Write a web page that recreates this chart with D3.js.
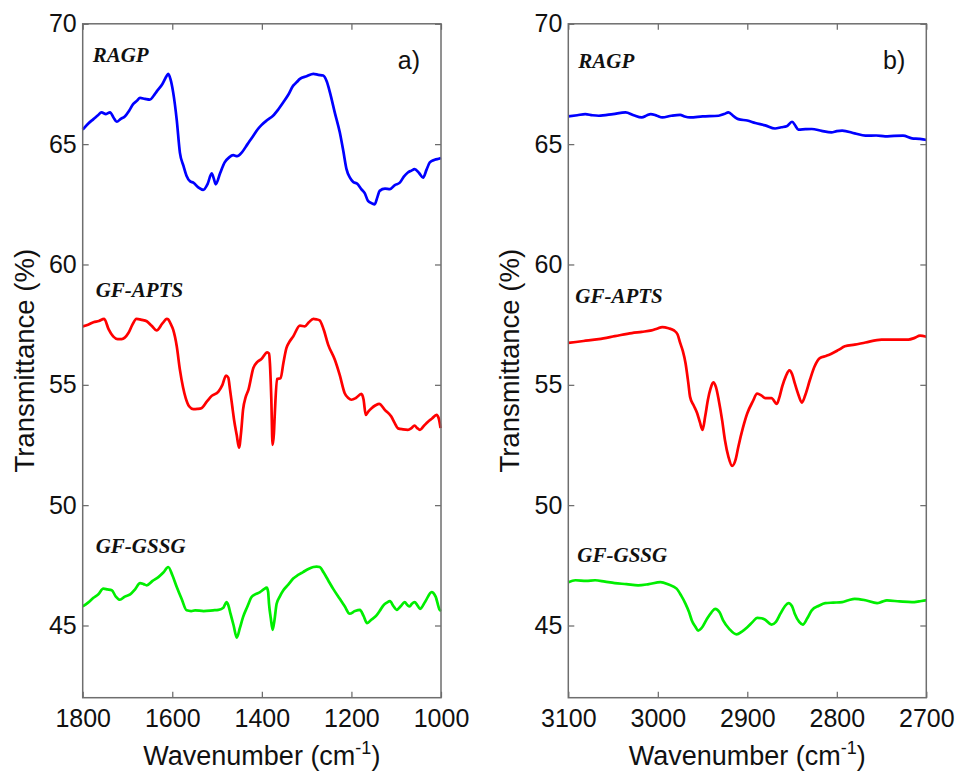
<!DOCTYPE html>
<html>
<head>
<meta charset="utf-8">
<script src="https://cdn.jsdelivr.net/npm/d3@7"></script>
<style>
body { margin: 0; background: #fff; }
svg { display: block; }
</style>
</head>
<body>
<div id="chart"></div>
<script>
// panel a: 1800-1000 cm-1
var wnA_ragp = [1800,1788,1776,1766,1758,1748,1739,1731,1724,1715,1706,1696,1687,1679,1672,1661,1650,1642,1635,1622,1612,1609,1604,1598,1590,1583,1575,1568,1560,1553,1542,1531,1521,1512,1507,1503,1493,1483,1473,1464,1455,1445,1432,1419,1410,1401,1388,1375,1363,1352,1341,1330,1322,1315,1300,1285,1274,1263,1255,1248,1237,1226,1218,1211,1203,1196,1187,1178,1170,1163,1155,1148,1142,1137,1125,1114,1103,1092,1083,1074,1066,1059,1049,1040,1032,1025,1014,1003,1000];
var tA_ragp = [65.6,65.85,66.04,66.2,66.32,66.25,66.32,66.1,65.93,66.05,66.15,66.4,66.67,66.8,66.92,66.88,66.85,67.0,67.18,67.5,67.85,67.92,67.7,67.15,66.0,64.65,64.1,63.68,63.45,63.4,63.2,63.1,63.35,63.79,63.55,63.33,63.8,64.24,64.45,64.54,64.5,64.65,65.0,65.35,65.6,65.79,66.0,66.18,66.45,66.74,67.05,67.43,67.58,67.71,67.82,67.92,67.88,67.85,67.6,67.15,66.3,65.49,64.7,63.96,63.6,63.43,63.35,63.13,62.95,62.64,62.55,62.5,62.8,63.06,63.15,63.13,63.3,63.4,63.65,63.82,63.9,63.96,63.8,63.61,63.95,64.24,64.35,64.4,64.42];

var wnA_apts = [1800,1788,1776,1764,1752,1742,1732,1722,1713,1698,1689,1680,1668,1657,1646,1635,1622,1612,1609,1604,1598,1590,1583,1576,1570,1562,1553,1544,1535,1523,1512,1497,1488,1480,1475,1471,1466,1462,1456,1451,1446,1442,1436,1430,1419,1410,1401,1388,1384,1382,1379,1376,1373,1371,1366,1358,1352,1345,1338,1330,1315,1304,1295,1285,1278,1271,1262,1252,1237,1226,1215,1207,1200,1190,1178,1173,1168,1162,1155,1146,1138,1125,1111,1103,1096,1085,1074,1066,1059,1053,1047,1038,1029,1020,1010,1005,1001];
var tA_apts = [57.43,57.5,57.6,57.65,57.74,57.3,57.01,56.9,56.9,57.15,57.5,57.74,57.7,57.64,57.45,57.26,57.55,57.74,57.72,57.55,57.29,56.6,55.63,54.9,54.45,54.1,53.99,54.0,54.03,54.3,54.54,54.72,55.0,55.38,55.3,54.79,54.1,53.54,52.9,52.39,53.1,53.96,54.5,54.79,55.7,55.95,56.07,56.35,56.3,55.9,54.5,52.5,53.0,53.82,55.24,55.28,55.9,56.53,56.8,57.01,57.46,57.43,57.6,57.74,57.72,57.68,57.3,56.67,56.04,55.4,54.65,54.45,54.38,54.45,54.62,54.4,53.75,53.9,54.03,54.15,54.21,53.95,53.68,53.4,53.19,53.15,53.13,53.2,53.31,53.2,53.13,53.3,53.47,53.6,53.75,53.6,53.2];

var wnA_gssg = [1800,1788,1776,1765,1754,1745,1735,1726,1717,1706,1694,1683,1672,1664,1657,1644,1631,1620,1609,1600,1590,1579,1568,1558,1549,1530,1509,1497,1486,1479,1475,1470,1463,1456,1449,1442,1432,1423,1414,1404,1396,1389,1386,1384,1380,1376,1372,1367,1360,1352,1341,1330,1319,1308,1296,1285,1278,1271,1262,1252,1240,1226,1215,1204,1192,1181,1173,1165,1155,1144,1137,1129,1121,1114,1106,1099,1090,1081,1075,1070,1065,1059,1053,1047,1035,1021,1012,1003,1000];
var tA_gssg = [45.79,45.95,46.15,46.3,46.53,46.5,46.46,46.2,46.07,46.2,46.29,46.5,46.76,46.72,46.67,46.85,47.01,47.2,47.43,47.1,46.6,46.1,45.63,45.6,45.63,45.6,45.63,45.65,45.74,45.97,45.85,45.49,45.0,44.49,44.9,45.35,45.8,46.18,46.3,46.39,46.5,46.57,46.4,45.9,45.3,44.82,45.2,45.9,46.2,46.46,46.7,46.95,47.1,47.22,47.35,47.43,47.45,47.43,47.2,46.88,46.5,46.11,45.8,45.49,45.6,45.65,45.4,45.1,45.25,45.42,45.6,45.83,45.95,46.01,45.8,45.65,45.8,45.97,45.85,45.79,45.9,45.97,45.85,45.69,46.0,46.39,46.2,45.65,45.6];

// panel b: 3100-2700 cm-1
var wnB_ragp = [3100,3090,3081,3073,3066,3050,3036,3027,3018,3012,3008,3001,2995,2985,2975,2970,2964,2950,2932,2926,2921,2915,2910,2900,2891,2880,2869,2862,2856,2850,2846,2843,2835,2828,2817,2806,2800,2794,2780,2768,2756,2746,2736,2726,2716,2708,2701,2700];
var tB_ragp = [66.15,66.2,66.25,66.2,66.18,66.25,66.32,66.2,66.11,66.2,66.25,66.18,66.11,66.18,66.22,66.15,66.11,66.15,66.18,66.25,66.32,66.15,66.04,65.98,65.88,65.78,65.65,65.7,65.74,65.93,65.75,65.6,65.62,65.63,65.55,65.49,65.54,65.56,65.45,65.35,65.36,65.32,65.34,65.35,65.24,65.22,65.18,65.17];

var wnB_apts = [3100,3083,3066,3048,3029,3018,3007,3001,2995,2988,2982,2978,2975,2972,2969,2966,2964,2960,2956,2953,2950,2947,2944,2941,2938,2935,2932,2928,2925,2921,2917,2913,2910,2905,2900,2894,2889,2884,2880,2873,2867,2864,2861,2857,2853,2850,2847,2843,2839,2835,2830,2825,2819,2812,2806,2798,2791,2780,2768,2750,2735,2720,2713,2707,2701,2700];
var tB_apts = [56.74,56.82,56.9,57.02,57.15,57.2,57.26,57.33,57.4,57.35,57.26,57.1,56.74,56.4,55.9,55.1,54.51,54.15,53.82,53.45,53.13,53.7,54.38,54.85,55.1,54.9,54.38,53.5,52.71,52.0,51.63,51.9,52.43,53.2,53.82,54.3,54.63,54.55,54.45,54.45,54.21,54.5,54.93,55.35,55.6,55.45,55.07,54.6,54.26,54.6,55.21,55.75,56.11,56.2,56.29,56.45,56.6,56.67,56.76,56.88,56.88,56.88,56.95,57.04,57.01,57.0];

var wnB_gssg = [3100,3092,3080,3070,3059,3048,3035,3022,3010,2997,2988,2979,2974,2969,2965,2962,2958,2955,2950,2945,2940,2936,2931,2927,2920,2912,2906,2900,2894,2889,2884,2880,2873,2868,2863,2858,2854,2850,2847,2842,2838,2833,2828,2820,2813,2804,2794,2787,2780,2768,2755,2750,2744,2730,2716,2708,2701,2700];
var tB_gssg = [46.8,46.88,46.85,46.88,46.82,46.76,46.72,46.67,46.72,46.8,46.7,46.53,46.25,45.9,45.55,45.21,44.95,44.79,44.95,45.28,45.55,45.69,45.55,45.21,44.85,44.63,44.75,44.93,45.15,45.32,45.3,45.24,45.04,45.15,45.49,45.8,45.93,45.8,45.49,45.15,45.04,45.3,45.63,45.82,45.93,45.95,45.97,46.05,46.11,46.05,45.93,45.98,46.04,46.0,45.97,46.0,46.04,46.04];

var panels = [
  { x0: 82.7, x1: 441, domain: [1800, 1000], ticks: [1800,1600,1400,1200,1000], tag: "a)",
    series: [[wnA_ragp, tA_ragp], [wnA_apts, tA_apts], [wnA_gssg, tA_gssg]],
    labelPos: [[10, 38], [13, 273], [13, 529]] },
  { x0: 568.3, x1: 926.3, domain: [3100, 2700], ticks: [3100,3000,2900,2800,2700], tag: "b)",
    series: [[wnB_ragp, tB_ragp], [wnB_apts, tB_apts], [wnB_gssg, tB_gssg]],
    labelPos: [[10, 44], [7, 279], [9, 538]] }
];
var names = ["RAGP", "GF-APTS", "GF-GSSG"];
var colors = ["#0000ff", "#ff0000", "#00ee00"];
var yTicks = [45, 50, 55, 60, 65, 70];

var width = 959, height = 771;
var plotTop = 23.8, plotBottom = 697.7;

var svg = d3.select("#chart").append("svg")
  .attr("width", width)
  .attr("height", height);

var y = d3.scaleLinear().domain([42, 70]).range([plotBottom, plotTop]);

panels.forEach(function(p) {
  var x = d3.scaleLinear().domain(p.domain).range([p.x0, p.x1]);
  var g = svg.append("g");

  // curves
  var line = d3.line()
    .x(function(d) { return x(d[0]); })
    .y(function(d) { return y(d[1]); })
    .curve(d3.curveMonotoneX);

  p.series.forEach(function(s, i) {
    var pts = s[0].map(function(w, k) { return [w, s[1][k]]; });
    g.append("path")
      .datum(pts)
      .attr("d", line)
      .attr("fill", "none")
      .attr("stroke", colors[i])
      .attr("stroke-width", 2.7)
      .attr("stroke-linejoin", "round");
  });

  // axes with inward ticks
  var xb = g.append("g").attr("transform", "translate(0," + plotBottom + ")")
    .call(d3.axisBottom(x).tickValues(p.ticks).tickSizeInner(-6).tickSizeOuter(0).tickPadding(12).tickFormat(d3.format("d")));
  var xt = g.append("g").attr("transform", "translate(0," + plotTop + ")")
    .call(d3.axisTop(x).tickValues(p.ticks).tickSizeInner(-6).tickSizeOuter(0).tickFormat(""));
  var yl = g.append("g").attr("transform", "translate(" + p.x0 + ",0)")
    .call(d3.axisLeft(y).tickValues(yTicks).tickSizeInner(-6).tickSizeOuter(0).tickPadding(6));
  var yr = g.append("g").attr("transform", "translate(" + p.x1 + ",0)")
    .call(d3.axisRight(y).tickValues(yTicks).tickSizeInner(-6).tickSizeOuter(0).tickFormat(""));

  [xb, xt, yl, yr].forEach(function(a) {
    a.select(".domain").remove();
    a.selectAll(".tick line").attr("stroke", "#666").attr("stroke-width", 1.2);
    a.selectAll("text").attr("font-family", "Liberation Sans, Arial, sans-serif")
      .attr("font-size", 25).attr("fill", "#111");
  });

  g.append("rect")
    .attr("x", p.x0).attr("y", plotTop)
    .attr("width", p.x1 - p.x0).attr("height", plotBottom - plotTop)
    .attr("fill", "none").attr("stroke", "#6e6e6e").attr("stroke-width", 1.5);

  // series names
  names.forEach(function(n, i) {
    g.append("text")
      .attr("x", p.x0 + p.labelPos[i][0])
      .attr("y", plotTop + p.labelPos[i][1])
      .attr("font-family", "Liberation Serif, Times New Roman, serif")
      .attr("font-weight", "bold").attr("font-style", "italic")
      .attr("font-size", 21).attr("fill", "#111")
      .text(n);
  });

  g.append("text")
    .attr("x", p.x1 - 21).attr("y", plotTop + 45)
    .attr("text-anchor", "end")
    .attr("font-family", "Liberation Sans, Arial, sans-serif")
    .attr("font-size", 25).attr("fill", "#111")
    .text(p.tag);

  // x title
  var xTitle = g.append("text")
    .attr("x", (p.x0 + p.x1) / 2).attr("y", 765)
    .attr("text-anchor", "middle")
    .attr("font-family", "Liberation Sans, Arial, sans-serif")
    .attr("font-size", 27).attr("fill", "#111");
  xTitle.append("tspan").text("Wavenumber (cm");
  xTitle.append("tspan").attr("dy", -11).attr("font-size", 18).text("-1");
  xTitle.append("tspan").attr("dy", 11).text(")");

  // y title
  g.append("text")
    .attr("transform", "translate(" + (p.x0 - 49) + "," + ((plotTop + plotBottom) / 2) + ") rotate(-90)")
    .attr("text-anchor", "middle")
    .attr("font-family", "Liberation Sans, Arial, sans-serif")
    .attr("font-size", 27.5).attr("fill", "#111")
    .text("Transmittance (%)");
});
</script>
</body>
</html>
